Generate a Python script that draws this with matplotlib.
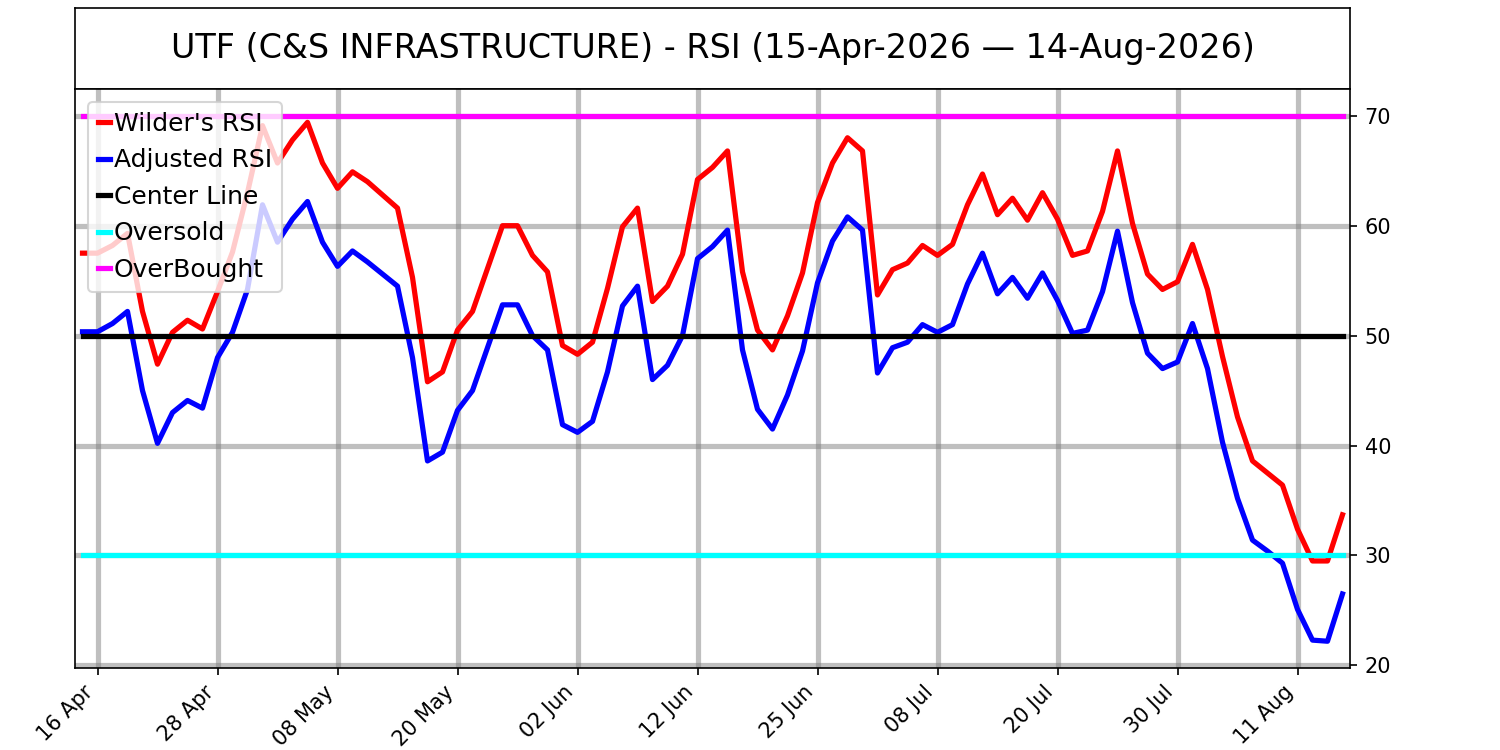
import pandas as pd
import matplotlib
matplotlib.use('Agg')
import matplotlib.pyplot as plt

# trading days 15-Apr-2026 .. 14-Aug-2026 (US market holidays removed)
feriados = ['2026-05-25', '2026-06-19', '2026-07-03']
datas = pd.bdate_range('2026-04-15', '2026-08-14')
datas = datas[~datas.isin(pd.to_datetime(feriados))]

wilder_rsi = [57.5, 57.5, 58.2, 59.3, 52.2, 47.4, 50.3, 51.4, 50.6, 54.0,
              57.6, 63.0, 69.1, 65.7, 67.8, 69.4, 65.7, 63.4, 64.9, 64.0,
              62.8, 61.6, 55.3, 45.8, 46.7, 50.5, 52.2, 56.1, 60.0, 60.0,
              57.3, 55.8, 49.1, 48.3, 49.4, 54.3, 59.9, 61.6, 53.1, 54.5,
              57.4, 64.2, 65.3, 66.8, 55.8, 50.5, 48.7, 51.8, 55.7, 62.1,
              65.7, 68.0, 66.8, 53.7, 56.0, 56.6, 58.2, 57.3, 58.3, 61.9,
              64.7, 61.0, 62.5, 60.5, 63.0, 60.6, 57.3, 57.7, 61.3, 66.8,
              60.2, 55.6, 54.2, 54.9, 58.3, 54.2, 48.1, 42.6, 38.6, 37.5,
              36.4, 32.4, 29.5, 29.5, 33.7]

adjusted_rsi = [50.35, 50.35, 51.1, 52.2, 45.0, 40.2, 43.0, 44.1, 43.4, 48.0,
                50.3, 54.2, 61.9, 58.5, 60.6, 62.2, 58.5, 56.3, 57.7, 56.7,
                55.6, 54.5, 48.0, 38.6, 39.4, 43.2, 45.0, 48.9, 52.8, 52.8,
                50.0, 48.7, 41.9, 41.2, 42.2, 46.7, 52.7, 54.5, 46.0, 47.3,
                50.0, 57.0, 58.1, 59.6, 48.7, 43.3, 41.5, 44.6, 48.6, 54.8,
                58.6, 60.8, 59.6, 46.6, 48.9, 49.4, 51.0, 50.3, 51.0, 54.7,
                57.5, 53.8, 55.3, 53.4, 55.7, 53.2, 50.2, 50.5, 54.0, 59.5,
                53.0, 48.4, 47.0, 47.6, 51.1, 47.0, 40.3, 35.2, 31.4, 30.4,
                29.3, 25.1, 22.3, 22.2, 26.5]

centro = 50
sobrevendido = 30
sobrecomprado = 70

titulo = 'UTF (C&S INFRASTRUCTURE) - RSI (15-Apr-2026 \u2014 14-Aug-2026)'

df = pd.DataFrame({'Wilder': wilder_rsi, 'Adjusted': adjusted_rsi}, index=datas)
x = list(range(len(df)))

fig = plt.figure(figsize=(10, 5), dpi=150)
ax_t = fig.add_axes([0.05, 0.8807, 0.85, 0.1086])
ax_t.set_xticks([])
ax_t.set_yticks([])
ax_t.text(0.5, 0.5, titulo, ha='center', va='center', fontsize=16, transform=ax_t.transAxes)

ax = fig.add_axes([0.05, 0.11, 0.85, 0.7707])
ax.plot(x, df['Wilder'], color='red', lw=2.5, label="Wilder's RSI")
ax.plot(x, df['Adjusted'], color='blue', lw=2.5, label='Adjusted RSI')
ax.plot(x, [centro] * len(x), color='black', lw=2.5, label='Center Line')
ax.plot(x, [sobrevendido] * len(x), color='cyan', lw=2.5, label='Oversold')
ax.plot(x, [sobrecomprado] * len(x), color='magenta', lw=2.5, label='OverBought')

ax.set_xlim(-0.5, len(x) - 0.5)
ax.yaxis.tick_right()
ax.set_yticks([20, 30, 40, 50, 60, 70])
ticks = x[1::8]
ax.set_xticks(ticks)
ax.set_xticklabels([df.index[i].strftime('%d %b') for i in ticks], rotation=45, ha='right')
ax.grid(True, color='gray', alpha=0.5, lw=2.5)
ax.legend(loc='upper left', fontsize=12, handlelength=0.5, handletextpad=0.15)

plt.savefig('out.png', dpi=150)
